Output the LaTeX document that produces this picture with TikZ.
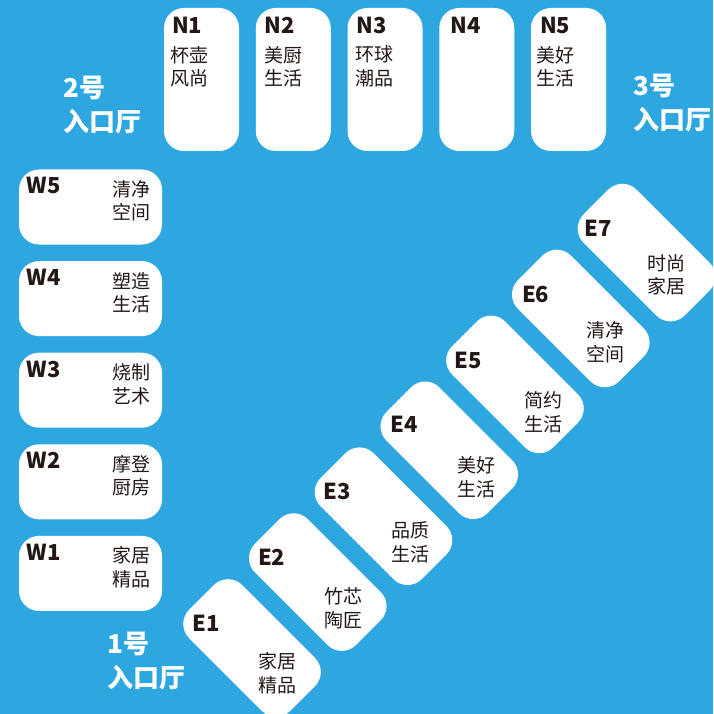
\documentclass[tikz,border=0pt]{standalone}
\usepackage{fontspec}
\setmainfont{Noto Sans CJK SC}
\usepackage{xcolor}
\usepackage{tikz}
\usetikzlibrary{calc}
\definecolor{hall}{HTML}{2EA7E0}
\definecolor{ink}{HTML}{231815}
\tikzset{
  booth/.style={fill=white, rounded corners=20pt, minimum width=75pt, minimum height=143pt, inner sep=0pt},
  wbooth/.style={booth, minimum width=143pt, minimum height=75pt},
  ebooth/.style={wbooth, rotate=-45},
  code/.style={text=ink, font=\bfseries\fontsize{22}{22}\selectfont, inner sep=0pt},
  shop/.style={text=ink, font=\fontsize{19}{23.5}\selectfont, inner sep=0pt, align=left},
  shopr/.style={shop, align=right},
  shopc/.style={shop, align=center},
  gate/.style={text=white, font=\bfseries\fontsize{26}{34}\selectfont, inner sep=0pt, align=left},
}

\begin{document}
\begin{tikzpicture}[x=1pt, y=-1pt]
  \useasboundingbox (0,0) rectangle (713,714);
  \clip (0,0) rectangle (713,714);
  \fill[hall] (0,0) rectangle (713,714);
  % north row
  \node[booth] (n1) at (201.5,79.5) {};
  \node[booth] (n2) at (293.25,79.5) {};
  \node[booth] (n3) at (385,79.5) {};
  \node[booth] (n4) at (476.75,79.5) {};
  \node[booth] (n5) at (568.5,79.5) {};
  \node[code, anchor=north west] (n1c) at ([shift={(8,9)}]n1.north west) {N1};
  \node[code, anchor=north west] (n2c) at ([shift={(9,9)}]n2.north west) {N2};
  \node[code, anchor=north west] (n3c) at ([shift={(9,9)}]n3.north west) {N3};
  \node[code, anchor=north west] (n4c) at ([shift={(11,9)}]n4.north west) {N4};
  \node[code, anchor=north west] (n5c) at ([shift={(9,9)}]n5.north west) {N5};
  \node[shop, anchor=north west] (n1t) at ([shift={(6,38)}]n1.north west) {杯壶\\风尚};
  \node[shop, anchor=north west] (n2t) at ([shift={(9,38)}]n2.north west) {美厨\\生活};
  \node[shop, anchor=north west] (n3t) at ([shift={(8,38)}]n3.north west) {环球\\潮品};
  \node[shop, anchor=north west] (n5t) at ([shift={(5,38)}]n5.north west) {美好\\生活};
  % west column
  \node[wbooth] (w5) at (90.5,207) {};
  \node[wbooth] (w4) at (90.5,298.6) {};
  \node[wbooth] (w3) at (90.5,390.2) {};
  \node[wbooth] (w2) at (90.5,481.8) {};
  \node[wbooth] (w1) at (90.5,573.4) {};
  \node[code, anchor=north west] (w5c) at ([shift={(8,8)}]w5.north west) {W5};
  \node[code, anchor=north west] (w4c) at ([shift={(8,8)}]w4.north west) {W4};
  \node[code, anchor=north west] (w3c) at ([shift={(8,8)}]w3.north west) {W3};
  \node[code, anchor=north west] (w2c) at ([shift={(8,8)}]w2.north west) {W2};
  \node[code, anchor=north west] (w1c) at ([shift={(8,8)}]w1.north west) {W1};
  \node[shopr, anchor=north east] (w5t) at ([shift={(-12,11)}]w5.north east) {清净\\空间};
  \node[shopr, anchor=north east] (w4t) at ([shift={(-12,11)}]w4.north east) {塑造\\生活};
  \node[shopr, anchor=north east] (w3t) at ([shift={(-12,11)}]w3.north east) {烧制\\艺术};
  \node[shopr, anchor=north east] (w2t) at ([shift={(-12,11)}]w2.north east) {摩登\\厨房};
  \node[shopr, anchor=north east] (w1t) at ([shift={(-12,11)}]w1.north east) {家居\\精品};
  % east diagonal
  \node[ebooth] (e1) at (252,648) {};
  \node[ebooth] (e2) at (317.75,582.1) {};
  \node[ebooth] (e3) at (383.5,516.2) {};
  \node[ebooth] (e4) at (449.25,450.3) {};
  \node[ebooth] (e5) at (515,384.4) {};
  \node[ebooth] (e6) at (580.75,318.5) {};
  \node[ebooth] (e7) at (646.5,252.6) {};
  \node[code] (e1c) at ($(e1)+(-46,-25)$) {E1};
  \node[code] (e2c) at ($(e2)+(-46,-25)$) {E2};
  \node[code] (e3c) at ($(e3)+(-46,-25)$) {E3};
  \node[code] (e4c) at ($(e4)+(-45,-26)$) {E4};
  \node[code] (e5c) at ($(e5)+(-47,-24)$) {E5};
  \node[code] (e6c) at ($(e6)+(-45,-24)$) {E6};
  \node[code] (e7c) at ($(e7)+(-48,-24)$) {E7};
  \node[shopc] (e1t) at ($(e1)+(25,25)$) {家居\\精品};
  \node[shopc] (e2t) at ($(e2)+(26,26)$) {竹芯\\陶匠};
  \node[shopc] (e3t) at ($(e3)+(27,26)$) {品质\\生活};
  \node[shopc] (e4t) at ($(e4)+(27,27)$) {美好\\生活};
  \node[shopc] (e5t) at ($(e5)+(28,28)$) {简约\\生活};
  \node[shopc] (e6t) at ($(e6)+(25,24)$) {清净\\空间};
  \node[shopc] (e7t) at ($(e7)+(20,22)$) {时尚\\家居};
  % entrances
  \node[gate, anchor=north west] (g2) at (63,76) {2号\\入口厅};
  \node[gate, anchor=north west] (g3) at (633,74) {3号\\入口厅};
  \node[gate, anchor=north west] (g1) at (107,632) {1号\\入口厅};
\end{tikzpicture}
\end{document}
